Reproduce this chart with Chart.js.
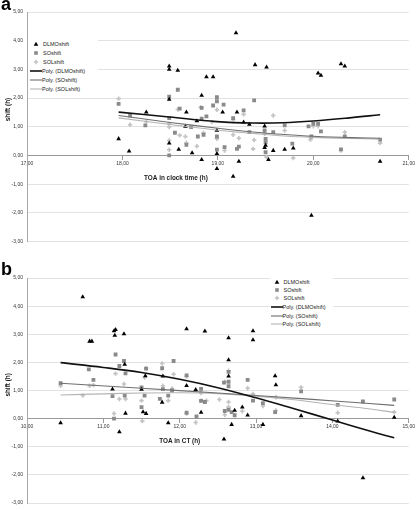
<!DOCTYPE html>
<html><head><meta charset="utf-8">
<script src="https://cdn.jsdelivr.net/npm/chart.js@4/dist/chart.umd.min.js"></script>
<style>
html,body{margin:0;padding:0;background:#fff;}
body{width:416px;height:510px;position:relative;overflow:hidden;font-family:"Liberation Sans",Arial,sans-serif;}
.pane{position:absolute;left:0;width:416px;}
#pa{top:0;height:250px;}
#pb{top:252px;height:258px;}
.letter{position:absolute;font-weight:bold;font-size:18px;line-height:18px;color:#000;}
.legbox{position:absolute;background:#fff;}
.legtxt{position:absolute;font-size:5.5px;line-height:6px;color:#222;white-space:nowrap;}
.legmk{position:absolute;}
</style></head><body>
<div class="pane" id="pa"><canvas id="ca" width="416" height="250"></canvas></div>
<div class="pane" id="pb"><canvas id="cb" width="416" height="258"></canvas></div>
<div class="letter" style="left:1px;top:-5px;">a</div>
<div class="letter" style="left:1px;top:260px;">b</div>
<script>
// ---------- tick labels ----------
const yTickLabels = ['-3,00','-2,00','-1,00','0,00','1,00','2,00','3,00','4,00','5,00'];
const aTicksX = ['17,00','18,00','19,00','20,00','21,00'];
const bTicksX = ['10,00','11,00','12,00','13,00','14,00','15,00'];
const legendLabels = ['DLMOshift','SOshift','SOLshift','Poly. (DLMOshift)','Poly. (SOshift)','Poly. (SOLshift)'];
const aTitleX = 'TOA in clock time (h)';
const bTitleX = 'TOA in CT (h)';
const titleY = 'shift (h)';

// ---------- panel a : [TOA clock time, shift] ----------
const aDLMO = [[17.96,0.58],[18.07,0.15],[18.25,1.51],[18.49,3.11],[18.49,3.00],[18.49,1.95],[18.49,0.43],[18.58,2.96],[18.59,0.21],[18.66,1.01],[18.67,1.51],[18.73,0.09],[18.78,1.20],[18.83,2.09],[18.83,-0.15],[18.88,2.74],[18.95,2.74],[18.99,0.87],[18.99,0.06],[18.99,-0.46],[19.05,1.51],[19.16,-0.73],[19.19,4.27],[19.20,1.51],[19.22,-0.21],[19.27,1.16],[19.33,1.08],[19.39,3.16],[19.49,1.02],[19.50,0.35],[19.49,0.27],[19.51,3.08],[19.53,-0.15],[19.58,0.17],[19.70,0.21],[19.79,0.25],[19.98,-2.09],[20.05,2.87],[20.08,2.79],[20.29,3.19],[20.33,3.11],[20.70,-0.21]];
const aSO = [[17.96,1.80],[18.08,1.39],[18.24,1.05],[18.49,2.05],[18.49,1.30],[18.49,0.00],[18.55,0.79],[18.58,2.29],[18.60,1.63],[18.67,0.37],[18.72,0.99],[18.79,0.66],[18.83,1.28],[18.83,1.66],[18.85,0.72],[18.88,1.36],[18.95,1.74],[18.99,2.03],[18.99,1.89],[18.99,0.66],[18.99,0.20],[19.06,1.77],[19.07,0.29],[19.16,1.30],[19.20,0.23],[19.22,0.31],[19.27,1.57],[19.33,0.81],[19.38,1.92],[19.49,0.87],[19.50,0.58],[19.50,0.46],[19.50,0.11],[19.58,0.81],[19.70,1.05],[19.78,0.41],[19.95,1.01],[19.98,0.66],[20.00,1.10],[20.05,1.10],[20.08,0.84],[20.29,0.21],[20.33,0.66],[20.70,0.55]];
const aSOL = [[17.96,1.98],[18.08,1.07],[18.25,1.18],[18.49,1.10],[18.49,0.99],[18.49,0.52],[18.49,0.20],[18.58,1.60],[18.60,0.70],[18.66,0.66],[18.67,0.44],[18.78,0.32],[18.82,1.68],[18.85,0.78],[18.94,1.16],[18.99,1.59],[18.99,0.58],[19.07,0.17],[19.16,0.72],[19.16,1.25],[19.22,0.60],[19.27,1.43],[19.37,0.23],[19.38,0.54],[19.49,0.75],[19.51,-0.06],[19.58,1.39],[19.70,0.87],[19.79,-0.09],[19.97,0.55],[20.00,1.02],[20.05,1.02],[20.29,0.17],[20.33,0.81],[20.70,0.43]];
const aPolyDLMO = [[17.96,1.51],[18.49,1.34],[18.99,1.18],[19.38,1.13],[19.68,1.14],[20.00,1.20],[20.38,1.31],[20.70,1.42]];
const aPolySO = [[17.96,1.39],[18.50,1.15],[19.00,0.95],[19.40,0.81],[19.70,0.73],[20.00,0.67],[20.40,0.62],[20.70,0.60]];
const aPolySOL = [[17.96,1.31],[18.50,1.08],[19.00,0.88],[19.40,0.76],[19.70,0.68],[20.00,0.63],[20.40,0.59],[20.70,0.57]];

// ---------- panel b : [TOA in CT, shift] ----------
const bDLMO = [[10.44,-0.15],[10.73,4.33],[10.82,2.75],[10.85,2.75],[11.12,1.05],[11.14,3.12],[11.16,3.16],[11.15,2.96],[11.21,-0.47],[11.27,3.01],[11.28,1.93],[11.29,0.19],[11.50,1.04],[11.52,0.24],[11.55,1.52],[11.56,0.18],[11.77,0.58],[11.78,1.51],[11.85,-0.15],[12.09,3.19],[12.09,1.17],[12.21,1.03],[12.28,0.22],[12.33,3.11],[12.58,-0.73],[12.64,2.87],[12.64,2.09],[12.64,1.51],[12.68,-0.21],[12.72,0.29],[12.82,0.41],[12.89,0.12],[12.96,3.12],[12.96,2.80],[13.09,-0.21],[13.25,1.52],[13.26,1.20],[13.59,0.10],[14.07,-0.09],[14.40,-2.11],[14.81,0.04]];
const bSO = [[10.44,1.26],[10.81,1.75],[10.87,1.38],[11.12,0.80],[11.14,0.00],[11.16,2.28],[11.21,1.87],[11.27,2.05],[11.28,0.82],[11.29,1.61],[11.50,1.11],[11.50,0.41],[11.54,0.82],[11.56,1.78],[11.74,0.70],[11.77,1.79],[11.78,1.05],[11.85,0.82],[11.90,1.00],[11.92,2.05],[12.09,1.54],[12.09,0.21],[12.22,0.08],[12.28,1.06],[12.28,0.63],[12.33,0.59],[12.58,1.28],[12.59,0.27],[12.64,1.66],[12.64,1.31],[12.64,1.15],[12.64,0.31],[12.68,0.23],[12.72,0.12],[12.89,1.38],[12.96,0.64],[13.09,0.55],[13.25,0.23],[13.59,0.97],[14.07,0.49],[14.40,0.61],[14.81,0.68]];
const bSOL = [[10.44,1.17],[10.73,0.82],[10.82,1.17],[10.87,1.19],[11.14,0.18],[11.16,1.60],[11.21,0.70],[11.27,1.23],[11.29,0.70],[11.50,0.64],[11.51,-0.09],[11.54,1.46],[11.56,1.79],[11.77,1.96],[11.78,1.17],[11.85,0.64],[11.90,1.07],[11.92,1.58],[12.09,1.50],[12.09,0.18],[12.21,-0.14],[12.28,0.91],[12.28,0.64],[12.35,0.64],[12.52,0.68],[12.59,1.31],[12.59,0.14],[12.64,1.70],[12.64,0.59],[12.64,0.41],[12.82,0.26],[12.89,1.08],[12.96,0.88],[13.09,0.45],[13.26,0.76],[13.26,0.29],[13.59,1.11],[14.07,0.21],[14.81,0.23]];
const bPolyDLMO = [[10.44,1.99],[11.00,1.82],[11.50,1.64],[12.00,1.40],[12.50,1.10],[13.00,0.74],[13.50,0.35],[14.00,-0.05],[14.50,-0.45],[14.81,-0.68]];
const bPolySO = [[10.44,1.26],[11.50,1.08],[12.50,0.91],[13.00,0.82],[13.50,0.73],[14.07,0.62],[14.81,0.47]];
const bPolySOL = [[10.44,0.84],[11.00,0.88],[11.50,0.91],[12.00,0.92],[12.50,0.89],[13.00,0.80],[13.50,0.67],[14.00,0.50],[14.50,0.34],[14.81,0.22]];

// ---------- styles ----------
const C_DLMO = '#000000', C_SO = '#8a8a8a', C_SOL = '#c2c2c2';
const C_PSO = '#6e6e6e', C_PSOL = '#b4b4b4';
const FONT = '"Liberation Sans", Arial, sans-serif';

function pts(arr){ return arr.map(p => ({x:p[0], y:p[1]})); }

function titlesPlugin(xText, xFrac, xVal, yVal){
  return {
    id:'axisTitles',
    afterDraw(chart){
      const ctx = chart.ctx, ca = chart.chartArea, ys = chart.scales.y;
      ctx.save();
      ctx.fillStyle = '#1a1a1a';
      ctx.font = 'bold 6.4px ' + FONT;
      ctx.textAlign = 'center';
      ctx.textBaseline = 'middle';
      ctx.fillText(xText, ca.left + xFrac*(ca.right-ca.left), ys.getPixelForValue(xVal));
      ctx.translate(8.5, ys.getPixelForValue(yVal));
      ctx.rotate(-Math.PI/2);
      ctx.fillText(titleY, 0, 0);
      ctx.restore();
    }
  };
}

function makeChart(id, d, xmin, xmax, xLabels, pad, xTitle, xFrac, xTitleVal, yTitleVal){
  const ds = [
    {label:legendLabels[0], data:pts(d.dlmo), pointStyle:'triangle', pointRadius:2.7, backgroundColor:C_DLMO, borderColor:C_DLMO, borderWidth:0, order:1},
    {label:legendLabels[1], data:pts(d.so), pointStyle:'rect', pointRadius:2.7, backgroundColor:C_SO, borderColor:C_SO, borderWidth:0, order:2},
    {label:legendLabels[2], data:pts(d.sol), pointStyle:'cross', pointRadius:2.2, backgroundColor:C_SOL, borderColor:C_SOL, borderWidth:1.6, order:3},
    {label:legendLabels[3], data:pts(d.pdlmo), showLine:true, pointRadius:0, borderColor:'#111', borderWidth:1.6, tension:0.4, order:0},
    {label:legendLabels[4], data:pts(d.pso), showLine:true, pointRadius:0, borderColor:C_PSO, borderWidth:1.1, tension:0.4, order:0},
    {label:legendLabels[5], data:pts(d.psol), showLine:true, pointRadius:0, borderColor:C_PSOL, borderWidth:1.1, tension:0.4, order:0}
  ];
  return new Chart(document.getElementById(id), {
    type:'scatter',
    data:{datasets:ds},
    options:{
      responsive:false, animation:false,
      layout:{padding:pad},
      plugins:{legend:{display:false}, tooltip:{enabled:false}},
      scales:{
        x:{
          type:'linear', min:xmin, max:xmax, position:{y:0},
          ticks:{stepSize:1, padding:1, color:'#333', font:{size:5, family:FONT}, maxRotation:0,
                 callback:(v,i)=>xLabels[i]},
          grid:{drawOnChartArea:false, drawTicks:true, tickLength:4, color:'#9a9a9a'},
          border:{display:true, color:'#9a9a9a', width:1}
        },
        y:{
          type:'linear', min:-3, max:5,
          afterFit:(s)=>{ s.width = 27; },
          ticks:{stepSize:1, padding:4, color:'#333', font:{size:5, family:FONT},
                 callback:(v,i)=>yTickLabels[i]},
          grid:{color:'#e2e2e2', lineWidth:1, drawTicks:false},
          border:{display:true, color:'#a8a8a8', width:1}
        }
      }
    },
    plugins:[titlesPlugin(xTitle, xFrac, xTitleVal, yTitleVal)]
  });
}

makeChart('ca', {dlmo:aDLMO, so:aSO, sol:aSOL, pdlmo:aPolyDLMO, pso:aPolySO, psol:aPolySOL},
  17, 21, aTicksX, {left:0, top:12, right:7, bottom:8.5}, aTitleX, 0.39, -0.8, 1.6);
makeChart('cb', {dlmo:bDLMO, so:bSO, sol:bSOL, pdlmo:bPolyDLMO, pso:bPolySO, psol:bPolySOL},
  10, 15, bTicksX, {left:0, top:26, right:7, bottom:5}, bTitleX, 0.40, -0.81, 1.2);

// ---------- legends (HTML) ----------
function marker(kind){
  const ns='http://www.w3.org/2000/svg';
  const svg=document.createElementNS(ns,'svg');
  svg.setAttribute('width','12'); svg.setAttribute('height','6');
  let el;
  if(kind===0){ el=document.createElementNS(ns,'polygon'); el.setAttribute('points','6,0.8 8.3,4.8 3.7,4.8'); el.setAttribute('fill',C_DLMO); }
  else if(kind===1){ el=document.createElementNS(ns,'rect'); el.setAttribute('x','4.2'); el.setAttribute('y','1.2'); el.setAttribute('width','3.6'); el.setAttribute('height','3.6'); el.setAttribute('fill',C_SO); }
  else if(kind===2){ el=document.createElementNS(ns,'path'); el.setAttribute('d','M6 0.8 V5.2 M3.8 3 H8.2'); el.setAttribute('stroke',C_SOL); el.setAttribute('stroke-width','1.4'); }
  else { el=document.createElementNS(ns,'line'); el.setAttribute('x1','0'); el.setAttribute('x2','12'); el.setAttribute('y1','3'); el.setAttribute('y2','3');
    el.setAttribute('stroke', kind===3?'#111':(kind===4?C_PSO:C_PSOL)); el.setAttribute('stroke-width', kind===3?'1.6':'1.1'); }
  svg.appendChild(el);
  return svg;
}
function legend(box, mkLeft, txtLeft, rows){
  const b=document.createElement('div'); b.className='legbox';
  b.style.left=box[0]+'px'; b.style.top=box[1]+'px'; b.style.width=box[2]+'px'; b.style.height=box[3]+'px';
  document.body.appendChild(b);
  rows.forEach((yc,i)=>{
    const m=marker(i); m.classList.add('legmk');
    m.style.left=(mkLeft)+'px'; m.style.top=(yc-3)+'px';
    document.body.appendChild(m);
    const t=document.createElement('div'); t.className='legtxt';
    t.textContent=legendLabels[i];
    t.style.left=(i<3?txtLeft:txtLeft-1)+'px'; t.style.top=(yc-3)+'px';
    document.body.appendChild(t);
  });
}
legend([28,39,70,55], 30, 43, [44,53,62,71,80,88.5]);
legend([270,276,63,52], 271, 283.5, [282,290,298,307,315.5,324]);
</script>
</body></html>
